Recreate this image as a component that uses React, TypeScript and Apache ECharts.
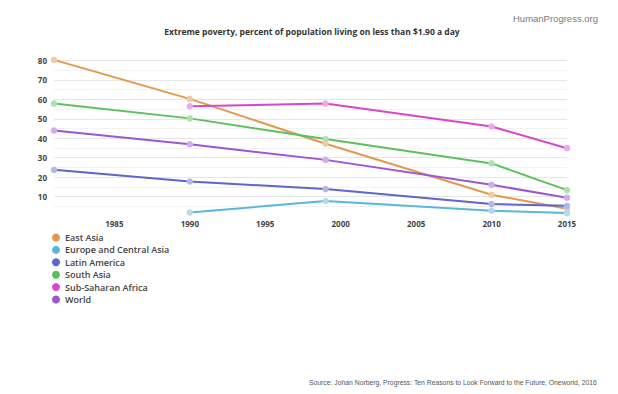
import React, { useEffect, useRef } from "react";
import * as echarts from "echarts";

const years = [1981, 1990, 1999, 2010, 2015];
const xTickLabels = [1985, 1990, 1995, 2000, 2005, 2010, 2015];

const seriesNames = [
  "East Asia",
  "Europe and Central Asia",
  "Latin America",
  "South Asia",
  "Sub-Saharan Africa",
  "World",
];
const eastAsia = [80.2, 60.2, 37.2, 11.0, 3.8];
const europeCentralAsia = [null, 1.9, 7.8, 2.8, 1.6];
const latinAmerica = [23.8, 17.8, 13.9, 6.2, 5.3];
const southAsia = [57.8, 50.2, 39.6, 27.1, 13.4];
const subSaharanAfrica = [null, 56.4, 57.8, 46.0, 34.9];
const world = [44.0, 36.9, 28.9, 16.1, 9.5];

const colors = ["#e2984e", "#5bb6dc", "#5d66c9", "#5cc15c", "#d846c9", "#9b57d3"];
const pointColors = ["#f1c9a2", "#b0dcf0", "#b3b8ea", "#aee2ad", "#f0a7ea", "#cfacef"];

const FONT = "'Open Sans', 'Noto Sans', sans-serif";

export default function App() {
  const ref = useRef<HTMLDivElement>(null);
  useEffect(() => {
    if (!ref.current) return;
    const chart = echarts.init(ref.current, undefined, { renderer: "svg" });
    const allValues = [eastAsia, europeCentralAsia, latinAmerica, southAsia, subSaharanAfrica, world];
    const series = seriesNames.map((name, i) => ({
      name,
      type: "line",
      clip: false,
      data: years.map((y, j) => [y, allValues[i][j]]).filter((d) => d[1] !== null),
      symbol: "circle",
      symbolSize: 6.5,
      lineStyle: { color: colors[i], width: 2 },
      itemStyle: { color: pointColors[i] },
      z: 2,
    }));
    chart.setOption({
      animation: false,
      backgroundColor: "#ffffff",
      title: [
        {
          text: "Extreme poverty, percent of population living on less than $1.90 a day",
          left: 312,
          top: 27,
          padding: 0,
          textAlign: "center",
          textStyle: { fontFamily: FONT, fontSize: 8.5, fontWeight: "bold", color: "#333" },
        },
        {
          text: "HumanProgress.org",
          right: 20,
          top: 13,
          padding: 0,
          textStyle: { fontFamily: "'Liberation Sans', Arial, sans-serif", fontSize: 9.5, fontWeight: "normal", color: "#7a7a7a" },
        },
        {
          text: "Source: Johan Norberg, Progress: Ten Reasons to Look Forward to the Future, Oneworld, 2016",
          left: 309,
          top: 379,
          padding: 0,
          textStyle: { fontFamily: "'Liberation Sans', Arial, sans-serif", fontSize: 6.8, fontWeight: "normal", color: "#555" },
        },
      ],
      legend: {
        orient: "vertical",
        left: 47,
        top: 228,
        padding: 5,
        icon: "circle",
        itemWidth: 8,
        itemHeight: 8,
        itemGap: 3.4,
        textStyle: { fontFamily: FONT, fontSize: 9, fontWeight: 600, color: "#444" },
        data: seriesNames.map((n, i) => ({ name: n, itemStyle: { color: colors[i] } })),
      },
      grid: { left: 54, right: 51, top: 60.3, bottom: 177.8, containLabel: false },
      xAxis: {
        type: "value",
        min: 1981,
        max: 2015,
        axisLine: { show: false },
        axisTick: { show: false },
        splitLine: { show: false },
        axisLabel: {
          customValues: xTickLabels,
          margin: 3,
          fontFamily: FONT,
          fontSize: 8,
          fontWeight: "bold",
          color: "#444",
          formatter: (v: number) => String(v),
        },
      },
      yAxis: {
        type: "value",
        min: 0,
        max: 80,
        interval: 10,
        axisLine: { show: false },
        axisTick: { show: false },
        splitLine: { show: true, showMinLine: false, lineStyle: { color: "#e6e6e6", width: 1 } },
        minorTick: { show: false, splitNumber: 2 },
        minorSplitLine: { show: true, lineStyle: { color: "#f2f2f2", width: 1 } },
        axisLabel: {
          margin: 7,
          fontFamily: FONT,
          fontSize: 8,
          fontWeight: "bold",
          color: "#444",
          formatter: (v: number) => (v === 0 ? "" : String(v)),
        },
      },
      series,
    });
    return () => chart.dispose();
  }, []);
  return (
    <div
      ref={ref}
      style={{ position: "fixed", left: 0, top: 0, width: 618, height: 394, background: "#fff" }}
    />
  );
}
